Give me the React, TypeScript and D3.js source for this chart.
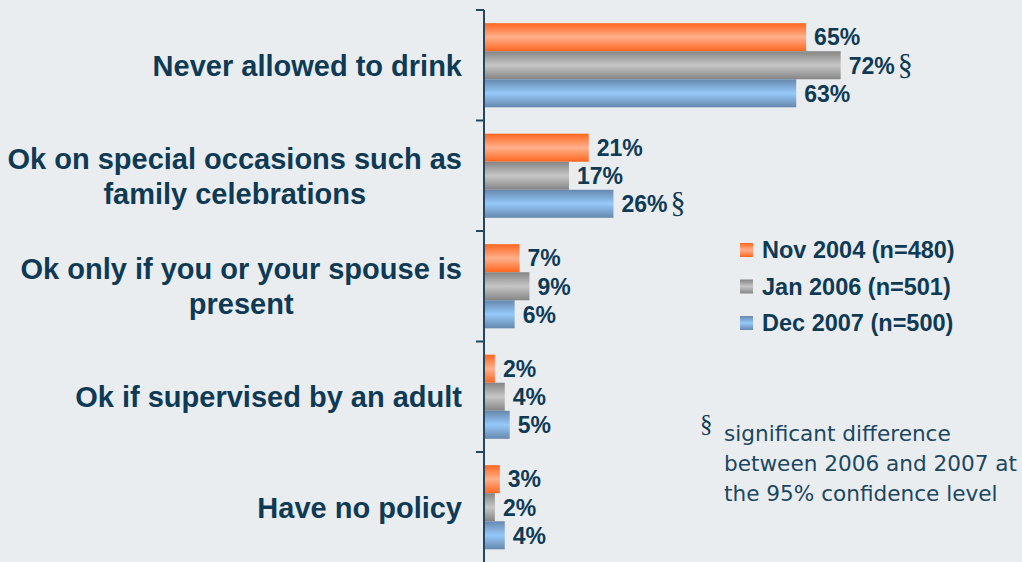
import React, { useEffect, useRef } from "react";
import * as d3 from "d3";

const categories = [
  ["Never allowed to drink"],
  ["Ok on special occasions such as", "family celebrations"],
  ["Ok only if you or your spouse is", "present"],
  ["Ok if supervised by an adult"],
  ["Have no policy"],
];
const seriesNames = ["Nov 2004 (n=480)", "Jan 2006 (n=501)", "Dec 2007 (n=500)"];
const nov2004 = [65, 21, 7, 2, 3];
const jan2006 = [72, 17, 9, 4, 2];
const dec2007 = [63, 26, 6, 5, 4];
// [categoryIndex, seriesIndex] pairs flagged with §
const significant = [
  [0, 1],
  [1, 2],
];
const footnoteLines = ["significant difference", "between 2006 and 2007 at", "the 95% confidence level"];

const W = 1022;
const H = 562;
const TEXT = "#0e3a55";
const gradients = [
  { id: "gOrange", edge: "#ff661f", mid: "#ffb08c" },
  { id: "gGray", edge: "#858585", mid: "#c6c6c6" },
  { id: "gBlue", edge: "#6688ad", mid: "#96c9fa" },
];

export default function App() {
  const ref = useRef<SVGSVGElement>(null);

  useEffect(() => {
    const svg = d3.select(ref.current);
    svg.selectAll("*").remove();
    const values = [nov2004, jan2006, dec2007];

    const defs = svg.append("defs");
    gradients.forEach((g) => {
      const lg = defs.append("linearGradient").attr("id", g.id).attr("x1", 0).attr("x2", 0).attr("y1", 0).attr("y2", 1);
      lg.append("stop").attr("offset", "0%").attr("stop-color", g.edge);
      lg.append("stop").attr("offset", "50%").attr("stop-color", g.mid);
      lg.append("stop").attr("offset", "100%").attr("stop-color", g.edge);
    });

    svg.append("rect").attr("width", W).attr("height", H).attr("fill", "#e9edef");

    const axisX = 485;
    const y = d3.scaleBand<number>().domain(categories.map((_, i) => i)).range([10, 562.5]);
    const yInner = d3.scaleBand<number>().domain([0, 1, 2]).range([0, y.bandwidth()]).paddingOuter(0.47);
    const x = d3.scaleLinear().domain([0, 100]).range([axisX, axisX + 494]);

    // bars
    values.forEach((vals, s) => {
      svg
        .append("g")
        .selectAll("rect")
        .data(vals)
        .join("rect")
        .attr("x", x(0))
        .attr("y", (_, i) => (y(i) as number) + (yInner(s) as number))
        .attr("width", (d) => x(d) - x(0))
        .attr("height", yInner.bandwidth())
        .attr("fill", `url(#${gradients[s].id})`);
    });

    // value labels
    values.forEach((vals, s) => {
      const t = svg
        .append("g")
        .selectAll("text")
        .data(vals)
        .join("text")
        .attr("x", (d) => x(d) + 8)
        .attr("y", (_, i) => (y(i) as number) + (yInner(s) as number) + yInner.bandwidth() / 2)
        .attr("dy", "0.36em")
        .attr("fill", TEXT)
        .attr("font-family", "Liberation Sans, Arial, sans-serif")
        .attr("font-weight", "bold")
        .attr("font-size", 23)
        .text((d) => `${d}%`);
      t.filter((_, i) => significant.some(([c, ss]) => c === i && ss === s))
        .append("tspan")
        .attr("font-family", "Liberation Serif, serif")
        .attr("font-weight", "normal")
        .attr("font-size", 30)
        .attr("dx", 3)
        .text("§");
    });

    // axis
    const ax = svg.append("g").attr("stroke", "#24465e").attr("stroke-width", 2);
    ax.append("line").attr("x1", axisX - 1).attr("x2", axisX - 1).attr("y1", 10).attr("y2", H);
    categories.forEach((_, i) => {
      ax.append("line")
        .attr("x1", axisX - 9)
        .attr("x2", axisX - 1)
        .attr("y1", y(i) as number)
        .attr("y2", y(i) as number);
    });

    // category labels
    const labelRight = 462;
    categories.forEach((lines, i) => {
      const cy = (y(i) as number) + y.bandwidth() / 2;
      const lh = 35;
      const g = svg.append("g");
      const texts = lines.map((ln, k) =>
        g
          .append("text")
          .attr("x", labelRight)
          .attr("y", cy + (k - (lines.length - 1) / 2) * lh)
          .attr("dy", "0.36em")
          .attr("text-anchor", "end")
          .attr("fill", TEXT)
          .attr("font-family", "Liberation Sans, Arial, sans-serif")
          .attr("font-weight", "bold")
          .attr("font-size", 29)
          .text(ln)
      );
      if (lines.length > 1) {
        const widths = texts.map((t) => (t.node() as SVGTextElement).getComputedTextLength());
        const cx = labelRight - (d3.max(widths) as number) / 2;
        texts.forEach((t) => t.attr("text-anchor", "middle").attr("x", cx));
      }
    });

    // legend
    const lg = svg.append("g");
    seriesNames.forEach((name, s) => {
      const ly = 250 + s * 36.5;
      lg.append("rect").attr("x", 740).attr("y", ly - 7).attr("width", 13).attr("height", 14).attr("fill", `url(#${gradients[s].id})`);
      lg.append("text")
        .attr("x", 762)
        .attr("y", ly)
        .attr("dy", "0.36em")
        .attr("fill", TEXT)
        .attr("font-family", "Liberation Sans, Arial, sans-serif")
        .attr("font-weight", "bold")
        .attr("font-size", 23.5)
        .text(name);
    });

    // footnote
    const fn = svg.append("g");
    fn.append("text")
      .attr("x", 700)
      .attr("y", 432)
      .attr("fill", TEXT)
      .attr("font-family", "Liberation Serif, serif")
      .attr("font-size", 25)
      .text("§");
    footnoteLines.forEach((ln, k) => {
      fn.append("text")
        .attr("x", 724)
        .attr("y", 441 + k * 30)
        .attr("fill", "#1b4760")
        .attr("font-family", "DejaVu Sans, Verdana, sans-serif")
        .attr("font-size", 21.6)
        .text(ln);
    });
  }, []);

  return <svg ref={ref} width={W} height={H} style={{ position: "absolute", left: 0, top: 0, display: "block" }} />;
}
